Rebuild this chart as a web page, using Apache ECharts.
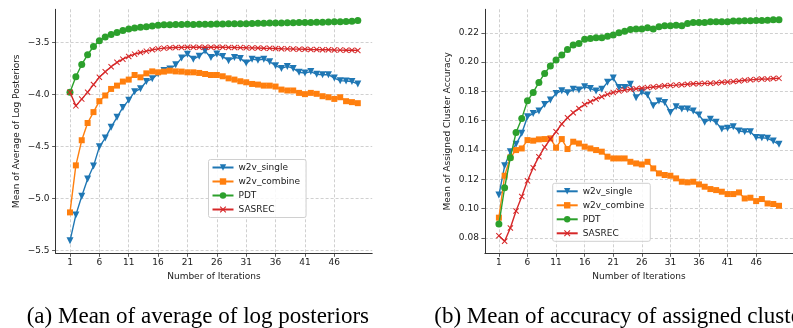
<!DOCTYPE html>
<html><head><meta charset="utf-8">
<script src="https://cdn.jsdelivr.net/npm/echarts@6/dist/echarts.min.js"></script>
<style>html,body{margin:0;padding:0;background:#fff}#c{width:793px;height:328px}</style>
</head><body><div id="c"></div>
<script>
const iterations = [1,2,3,4,5,6,7,8,9,10,11,12,13,14,15,16,17,18,19,20,21,22,23,24,25,26,27,28,29,30,31,32,33,34,35,36,37,38,39,40,41,42,43,44,45,46,47,48,49,50];
const xTicks = [1,6,11,16,21,26,31,36,41,46];
const leftYTicks = [-5.5,-5.0,-4.5,-4.0,-3.5];
const rightYTicks = [0.08,0.10,0.12,0.14,0.16,0.18,0.20,0.22];
const seriesNames = ['w2v_single','w2v_combine','PDT','SASREC'];
const captionA = '(a) Mean of average of log posteriors';
const captionB = '(b) Mean of accuracy of assigned clusters';

// (a) log posteriors
const lp_w2v_single = [-5.41,-5.16,-4.98,-4.815,-4.69,-4.505,-4.42,-4.315,-4.22,-4.125,-4.055,-3.975,-3.945,-3.875,-3.85,-3.80,-3.77,-3.755,-3.715,-3.65,-3.612,-3.66,-3.632,-3.582,-3.645,-3.61,-3.634,-3.675,-3.644,-3.653,-3.698,-3.66,-3.67,-3.66,-3.685,-3.723,-3.749,-3.73,-3.749,-3.787,-3.793,-3.78,-3.806,-3.81,-3.81,-3.842,-3.867,-3.87,-3.876,-3.899];
const lp_w2v_combine = [-5.136,-4.683,-4.441,-4.275,-4.17,-4.065,-4.01,-3.947,-3.915,-3.876,-3.857,-3.813,-3.835,-3.797,-3.778,-3.787,-3.78,-3.771,-3.778,-3.78,-3.787,-3.787,-3.793,-3.803,-3.813,-3.813,-3.825,-3.845,-3.857,-3.873,-3.883,-3.899,-3.905,-3.915,-3.915,-3.924,-3.953,-3.962,-3.962,-3.985,-3.997,-3.985,-3.994,-4.017,-4.027,-4.043,-4.027,-4.065,-4.074,-4.084];
const lp_PDT = [-3.978,-3.829,-3.711,-3.618,-3.538,-3.484,-3.446,-3.423,-3.404,-3.385,-3.369,-3.36,-3.353,-3.347,-3.34,-3.334,-3.330,-3.328,-3.326,-3.326,-3.325,-3.326,-3.324,-3.323,-3.323,-3.322,-3.322,-3.320,-3.319,-3.318,-3.318,-3.316,-3.315,-3.315,-3.313,-3.312,-3.311,-3.310,-3.309,-3.308,-3.307,-3.306,-3.305,-3.304,-3.302,-3.300,-3.299,-3.297,-3.295,-3.288];
const lp_SASREC = [-3.978,-4.11,-4.045,-3.978,-3.905,-3.835,-3.781,-3.733,-3.691,-3.66,-3.634,-3.612,-3.596,-3.583,-3.57,-3.561,-3.554,-3.550,-3.548,-3.547,-3.546,-3.546,-3.545,-3.545,-3.545,-3.546,-3.546,-3.547,-3.548,-3.549,-3.551,-3.552,-3.553,-3.555,-3.556,-3.558,-3.560,-3.561,-3.563,-3.564,-3.565,-3.567,-3.568,-3.570,-3.570,-3.572,-3.573,-3.574,-3.575,-3.576];

// (b) cluster accuracy
const acc_w2v_single = [0.1093,0.1293,0.1389,0.1439,0.1514,0.1627,0.165,0.1666,0.1711,0.1741,0.1786,0.1805,0.1791,0.1814,0.1809,0.1832,0.182,0.1802,0.1814,0.1863,0.1891,0.1826,0.1826,0.1849,0.1757,0.1795,0.1775,0.1702,0.1734,0.1725,0.1657,0.1695,0.168,0.168,0.1666,0.1639,0.1589,0.1611,0.1589,0.1543,0.1548,0.1559,0.153,0.1525,0.1525,0.1486,0.1484,0.148,0.1461,0.1439];
const acc_w2v_combine = [0.0939,0.1225,0.135,0.14,0.1411,0.1468,0.1464,0.1473,0.1475,0.148,0.1416,0.1475,0.1407,0.1457,0.1445,0.1423,0.1411,0.14,0.1389,0.1355,0.1343,0.1343,0.1343,0.132,0.1309,0.1302,0.132,0.1275,0.1241,0.123,0.1225,0.1207,0.1184,0.118,0.1184,0.1166,0.115,0.1134,0.1127,0.1116,0.11,0.11,0.1111,0.107,0.1075,0.1052,0.1066,0.1036,0.1032,0.102];
const acc_PDT = [0.0895,0.1143,0.1348,0.152,0.1616,0.1736,0.1793,0.1861,0.1923,0.1973,0.2014,0.2048,0.2086,0.2116,0.2127,0.2155,0.2161,0.2166,0.2166,0.2177,0.2184,0.22,0.2211,0.2223,0.2225,0.2225,0.2234,0.2225,0.2241,0.2248,0.2248,0.2252,0.2248,0.2264,0.227,0.227,0.227,0.2275,0.2275,0.2275,0.2275,0.228,0.228,0.2282,0.2282,0.2284,0.2284,0.2286,0.2289,0.2289];
const acc_SASREC = [0.0816,0.0778,0.0868,0.0984,0.1083,0.119,0.128,0.1355,0.142,0.1475,0.1525,0.1578,0.162,0.1655,0.1684,0.1711,0.173,0.1748,0.1764,0.178,0.1793,0.1802,0.1809,0.1815,0.1818,0.1822,0.1826,0.183,0.1834,0.1839,0.1841,0.1843,0.1846,0.1849,0.1852,0.1853,0.1855,0.1856,0.1858,0.1862,0.1864,0.1867,0.1871,0.1876,0.1879,0.1882,0.1885,0.1884,0.1888,0.1889];

const COLORS = ['#1f77b4','#ff7f0e','#2ca02c','#d62728'];
const XMARK = 'path://M0,1.2L1.2,0L5,3.8L8.8,0L10,1.2L6.2,5L10,8.8L8.8,10L5,6.2L1.2,10L0,8.8L3.8,5Z';
const SYMBOLS = [
  {symbol:'triangle', symbolRotate:180, symbolSize:7},
  {symbol:'rect', symbolSize:6},
  {symbol:'circle', symbolSize:7},
  {symbol:XMARK, symbolSize:6}
];
const FONT = 'DejaVu Sans';
const TXT = '#1a1a1a';

function pairs(vals){ return iterations.map((it,i)=>[it, vals[i]]); }

function xAxisCfg(gi){
  return {
    type:'value', gridIndex:gi, min:-1.45, max:52.45,
    name:'Number of Iterations', nameLocation:'middle', nameGap:18,
    nameTextStyle:{fontSize:9, color:TXT, fontFamily:FONT},
    axisLine:{show:true, onZero:false, lineStyle:{color:'#333', width:1}},
    axisTick:{show:true, customValues:xTicks, length:3.5, lineStyle:{color:'#333', width:0.8}},
    axisLabel:{customValues:xTicks, fontSize:9, color:TXT, margin:5, fontFamily:FONT},
    splitLine:{show:true, lineStyle:{color:'#c4c4c4', type:[3,2], width:0.8}}
  };
}
function yAxisCfg(gi, min, max, ticks, name, fmt, gap){
  return {
    type:'value', gridIndex:gi, min, max,
    name, nameLocation:'middle', nameGap:gap, nameRotate:90,
    nameTextStyle:{fontSize:9, color:TXT, fontFamily:FONT},
    axisLine:{show:true, onZero:false, lineStyle:{color:'#333', width:1}},
    axisTick:{show:true, customValues:ticks, length:3.5, lineStyle:{color:'#333', width:0.8}},
    axisLabel:{customValues:ticks, fontSize:9, color:TXT, margin:6, fontFamily:FONT, formatter:fmt},
    splitLine:{show:true, lineStyle:{color:'#c4c4c4', type:[3,2], width:0.8}}
  };
}
function mkSeries(gi, arrays){
  return arrays.map((vals,k)=>Object.assign({
    type:'line', name:seriesNames[k], xAxisIndex:gi, yAxisIndex:gi,
    data:pairs(vals), showSymbol:true, showAllSymbol:true, animation:false,
    color:COLORS[k],
    lineStyle:{width:1.4, color:COLORS[k]},
    itemStyle:{color:COLORS[k], borderWidth:0},
    emphasis:{disabled:true}, z:2+k
  }, SYMBOLS[k]));
}
function legendCfg(left, top){
  return {
    left, top, orient:'vertical', data:seriesNames,
    itemWidth:21, itemHeight:8, itemGap:4,
    textStyle:{fontSize:9, color:TXT, fontFamily:FONT, lineHeight:10},
    borderColor:'#d0d0d0', borderWidth:1, borderRadius:2,
    padding:[3,6,3,3], backgroundColor:'rgba(255,255,255,0.85)',
    selectedMode:false
  };
}

const chart = echarts.init(document.getElementById('c'), null, {renderer:'canvas'});
chart.setOption({
  backgroundColor:'#fff',
  animation:false,
  grid:[
    {left:55.6, top:9.3, width:316.6, height:244},
    {left:484.9, top:9.3, width:317, height:244}
  ],
  xAxis:[xAxisCfg(0), xAxisCfg(1)],
  yAxis:[
    yAxisCfg(0, -5.53, -3.18, leftYTicks, 'Mean of Average of Log Posteriors',
      v => (v<0?'\u2212':'') + Math.abs(v).toFixed(1), 34),
    yAxisCfg(1, 0.0696, 0.236, rightYTicks, 'Mean of Assigned Cluster Accuracy',
      v => v.toFixed(2), 33)
  ],
  legend:[legendCfg(208.5, 159.5), legendCfg(552.7, 183.3)],
  series:[].concat(
    mkSeries(0, [lp_w2v_single, lp_w2v_combine, lp_PDT, lp_SASREC]),
    mkSeries(1, [acc_w2v_single, acc_w2v_combine, acc_PDT, acc_SASREC])
  ),
  graphic:[
    {type:'text', left:26.7, top:305, style:{text:captionA, font:'23px "Liberation Serif"', fill:'#000'}},
    {type:'text', left:434.3, top:305, style:{text:captionB, font:'23px "Liberation Serif"', fill:'#000'}}
  ]
});
</script></body></html>
